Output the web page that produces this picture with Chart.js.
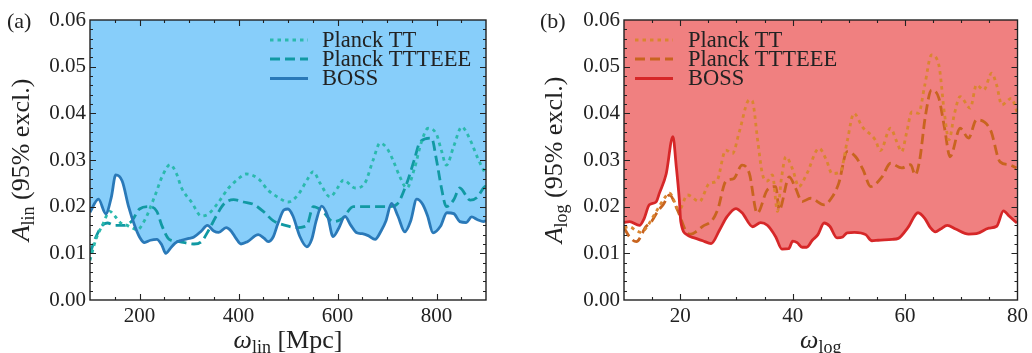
<!DOCTYPE html>
<html><head><meta charset="utf-8">
<script src="https://cdn.jsdelivr.net/npm/chart.js@4.4.1/dist/chart.umd.min.js"></script>
<style>
html,body{margin:0;padding:0;background:#fff;}
#wrap{position:relative;width:1032px;height:353px;overflow:hidden;}
canvas{position:absolute;top:0;}
</style>
</head><body>
<div id="wrap">
<canvas id="cA" width="516" height="353" style="left:0"></canvas>
<canvas id="cB" width="516" height="353" style="left:516px"></canvas>
</div>
<script>
// ---------- tick labels ----------
const yTicks = [0, 0.01, 0.02, 0.03, 0.04, 0.05, 0.06];
const linXTicks = [200, 400, 600, 800];
const logXTicks = [20, 40, 60, 80];
const legendLabels = ['Planck TT', 'Planck TTTEEE', 'BOSS'];

// ---------- panel (a): linear oscillations ----------
const linBossX = [100,117,132,143,152,165,178,190,200,210,222,235,245,253,262,272,285,300,310,325,337,350,360,375,385,395,405,418,440,452,460,470,480,492,500,510,524,538,548,557,568,580,591,603,615,627,639,650,662,676,688,698,709,722,736,748,760,772,782,793,808,821,835,847,860,871,883,895,900];
const linBossY = [.0188,.0216,.0185,.022,.0268,.0255,.020,.016,.0135,.0123,.0128,.013,.0118,.0100,.011,.0122,.0128,.0132,.0135,.0148,.016,.0148,.0145,.0155,.0148,.0132,.012,.0125,.014,.0132,.0125,.0135,.0165,.0193,.0195,.018,.0136,.0114,.013,.017,.0201,.018,.0136,.0155,.0179,.016,.0144,.0142,.0138,.013,.0148,.017,.0207,.018,.0146,.017,.0216,.0205,.018,.0144,.0158,.0187,.0185,.0168,.0166,.0178,.0172,.0168,.017];

const linTTX = [100,112,125,140,150,162,175,185,195,210,230,248,262,275,285,305,325,340,360,380,400,415,440,460,480,500,520,540,551,565,585,600,612,636,655,672,686,700,712,726,740,755,770,783,800,810,820,835,851,865,885,900];
const linTTY = [.0085,.013,.016,.019,.018,.0165,.016,.0155,.015,.017,.022,.027,.029,.027,.024,.021,.018,.0185,.021,.024,.026,.027,.026,.0235,.022,.021,.0225,.026,.0275,.025,.0221,.024,.0257,.024,.025,.030,.0336,.0325,.030,.0264,.024,.028,.034,.0368,.0355,.032,.0289,.033,.0371,.035,.030,.0268];

const linTEX = [100,112,125,135,150,170,185,200,220,235,245,260,280,310,325,340,355,370,390,410,430,450,470,495,515,538,551,570,591,610,632,660,690,706,720,740,755,767,790,800,810,820,835,847,868,882,895,900];
const linTEY = [.010,.0135,.016,.0165,.016,.016,.017,.0195,.020,.019,.016,.013,.0125,.012,.0125,.015,.018,.0205,.0215,.021,.0205,.019,.017,.016,.0155,.016,.020,.019,.0168,.0175,.020,.020,.020,.020,.0205,.025,.030,.0339,.0347,.030,.024,.020,.0215,.024,.0214,.022,.024,.0245];

// ---------- panel (b): log oscillations ----------
const logBossX = [10,11,12.75,13.6,14.5,15.7,16.3,17.5,18.7,19.3,19.85,20.1,21.3,22.5,24,25.5,27,28.3,29.9,31,32.9,34.3,35.5,37,38.1,39.3,40.0,40.8,41.7,42.5,43.5,44.5,45.6,46.6,47.9,48.9,49.7,51,53,54.1,55.2,57.7,58.8,60.5,62.3,63.5,64.5,65.4,66.3,67.5,69,71.3,72.7,74.9,76.3,77.5,78.5,79.9];
const logBossY = [.0166,.0168,.016,.0175,.0204,.021,.0229,.027,.035,.0286,.0214,.0168,.0139,.0133,.0127,.0121,.015,.0178,.0196,.0187,.0157,.0166,.016,.0135,.0109,.011,.0126,.0123,.0113,.0113,.0128,.014,.0165,.0158,.0133,.0135,.0144,.0145,.014,.0127,.0128,.013,.0132,.0155,.0187,.0175,.0155,.0146,.0152,.016,.0152,.0141,.0142,.0154,.0158,.0191,.018,.0165];

const logTTX = [10,11,12,13,14,15,16,17,18.1,19.8,21.3,23.4,25.2,26.5,28.1,29.3,30.5,32.3,32.8,33.8,34.6,35.5,36.4,37.3,38,38.8,40,41.1,42.5,44.7,46,47,48.5,49.7,50.9,52.4,54.7,55.6,57.4,58.5,59.4,60.3,61.2,62.4,63.5,64.7,66,67,67.8,68.8,69.8,71.6,72.7,74,75.4,76.3,77.2,78.9,80];
const logTTY = [.0155,.0157,.015,.0145,.0155,.0175,.0195,.0215,.0229,.0193,.0225,.0211,.025,.0255,.0321,.0314,.036,.0429,.0427,.034,.0271,.0255,.0268,.019,.026,.0307,.028,.0243,.027,.0325,.030,.0271,.0275,.034,.040,.0371,.0343,.032,.0368,.034,.0318,.036,.0403,.040,.046,.0525,.0504,.040,.0343,.040,.0436,.0411,.0461,.045,.0486,.046,.0418,.0432,.040];

const logTEX = [10,11,12.2,13.9,15,16,17,18.1,19.5,21.3,21.9,23,24,25.7,26.7,28.1,29.5,31,32.3,33.7,35.5,37,37.6,39.4,40.5,41.7,43.2,45.6,47,48.2,49.7,51.2,52.5,53.9,55.9,57.4,59.4,61,61.8,62.6,63.6,64.7,66,67,68,69.8,71.3,72.7,75.2,76.9,78.5,79.8];
const logTEY = [.0155,.0135,.0125,.0157,.017,.019,.0205,.0225,.0193,.0143,.0141,.0148,.0158,.0171,.0195,.0254,.026,.0289,.0271,.0186,.0236,.0243,.0193,.0264,.024,.0211,.0218,.0204,.022,.025,.0318,.0307,.028,.0243,.0264,.0293,.0283,.029,.0268,.030,.0393,.045,.0433,.037,.0307,.0368,.0347,.0386,.0364,.0296,.029,.0283];

// ---------- helpers ----------
const pts = (xs, ys) => xs.map((x, i) => ({x: x, y: ys[i]}));
const FONT = '"Liberation Serif", "Times New Roman", serif';
const INK = '#222';
const DOT = [3.5, 4];
const DASH = [10, 5];

function drawParts(ctx, parts, cx, by) {
  let w = 0;
  parts.forEach(p => { ctx.font = p.font; w += ctx.measureText(p.t).width; });
  let x = cx - w / 2;
  ctx.textBaseline = 'alphabetic';
  ctx.textAlign = 'left';
  parts.forEach(p => { ctx.font = p.font; ctx.fillText(p.t, x, by + (p.dy || 0)); x += ctx.measureText(p.t).width; });
}

function decoPlugin(cfg) {
  return {
    id: 'deco',
    afterDraw(chart) {
      const ctx = chart.ctx, a = chart.chartArea, xs = chart.scales.x, ys = chart.scales.y;
      ctx.save();
      ctx.strokeStyle = INK; ctx.fillStyle = INK;
      ctx.lineWidth = 1.1;
      ctx.beginPath();
      for (let v = cfg.xMin + cfg.xMinor; v < cfg.xMax - 1e-9; v += cfg.xMinor) {
        const px = Math.round(xs.getPixelForValue(v)) + 0.5;
        const len = cfg.xMajor.includes(Math.round(v)) ? 6 : 3;
        ctx.moveTo(px, a.bottom); ctx.lineTo(px, a.bottom - len);
        ctx.moveTo(px, a.top); ctx.lineTo(px, a.top + len);
      }
      for (let k = 1; k < 30; k++) {
        const py = Math.round(ys.getPixelForValue(k * 0.002)) + 0.5;
        const len = (k % 5 === 0) ? 6 : 3;
        ctx.moveTo(a.left, py); ctx.lineTo(a.left + len, py);
        ctx.moveTo(a.right, py); ctx.lineTo(a.right - len, py);
      }
      ctx.stroke();
      ctx.lineWidth = 1.4;
      ctx.strokeRect(a.left, a.top, a.right - a.left, a.bottom - a.top);
      cfg.legend.forEach((it, i) => {
        const yy = cfg.legY[i];
        ctx.save();
        ctx.strokeStyle = it.color; ctx.lineWidth = 2.8; ctx.setLineDash(it.dash);
        ctx.beginPath(); ctx.moveTo(cfg.legX0, yy); ctx.lineTo(cfg.legX1, yy); ctx.stroke();
        ctx.restore();
        ctx.font = '22.5px ' + FONT; ctx.textBaseline = 'middle'; ctx.textAlign = 'left';
        ctx.fillStyle = INK;
        ctx.fillText(it.label, cfg.legTX, yy + 1);
      });
      ctx.font = '22px ' + FONT; ctx.textBaseline = 'alphabetic'; ctx.textAlign = 'left';
      ctx.fillText(cfg.panel, cfg.panelX, 28);
      drawParts(ctx, [
        {t: 'ω', font: 'italic 26px ' + FONT},
        {t: cfg.sub, font: '18px ' + FONT, dy: 5},
        {t: cfg.xUnit, font: '26px ' + FONT}
      ], (a.left + a.right) / 2, 348);
      ctx.save();
      ctx.translate(cfg.yTitleX, (a.top + a.bottom) / 2);
      ctx.rotate(-Math.PI / 2);
      drawParts(ctx, [
        {t: 'A', font: 'italic 26px ' + FONT},
        {t: cfg.sub, font: '18px ' + FONT, dy: 5},
        {t: ' (95% excl.)', font: '26px ' + FONT}
      ], 0, 0);
      ctx.restore();
      ctx.restore();
    }
  };
}

function makeChart(id, c) {
  const ds = (label, data, color, dash, extra) => Object.assign({
    label: label, data: data, borderColor: color, borderWidth: 2.8, borderDash: dash,
    pointRadius: 0, fill: false, cubicInterpolationMode: 'monotone'
  }, extra || {});
  return new Chart(document.getElementById(id), {
    type: 'line',
    data: {
      datasets: [
        ds(legendLabels[0], c.tt, c.cTT, DOT),
        ds(legendLabels[1], c.te, c.cTE, DASH),
        ds(legendLabels[2], c.boss, c.cB, [], {fill: 'end', backgroundColor: c.fillColor, order: -1})
      ]
    },
    options: {
      responsive: false, animation: false, devicePixelRatio: 1,
      layout: {padding: {left: 0, right: c.padR, top: 20, bottom: 0}},
      plugins: {legend: {display: false}, tooltip: {enabled: false}, filler: {drawTime: 'beforeDatasetsDraw'}},
      scales: {
        x: {
          type: 'linear', min: c.xMin, max: c.xMax,
          grid: {display: false, drawTicks: false}, border: {display: false},
          afterBuildTicks: s => { s.ticks = c.xTicks.map(v => ({value: v})); },
          afterFit: s => { s.height = 53; },
          ticks: {font: {family: FONT, size: 21}, color: INK, padding: 4, maxRotation: 0, autoSkip: false,
                  callback: v => String(v)}
        },
        y: {
          type: 'linear', min: 0, max: 0.06,
          grid: {display: false, drawTicks: false}, border: {display: false},
          afterBuildTicks: s => { s.ticks = yTicks.map(v => ({value: v})); },
          afterFit: s => { s.width = c.yW; },
          ticks: {font: {family: FONT, size: 21}, color: INK, padding: 4, autoSkip: false,
                  callback: v => Number(v).toFixed(2)}
        }
      }
    },
    plugins: [decoPlugin(c.deco)]
  });
}

makeChart('cA', {
  tt: pts(linTTX, linTTY), te: pts(linTEX, linTEY), boss: pts(linBossX, linBossY),
  cTT: '#2bb9ad', cTE: '#1199a3', cB: '#2a79b8', fillColor: '#87cefa',
  xMin: 100, xMax: 900, xTicks: linXTicks, padR: 30, yW: 90,
  deco: {
    xMin: 100, xMax: 900, xMinor: 50, xMajor: linXTicks,
    legend: [
      {label: legendLabels[0], color: '#2bb9ad', dash: DOT},
      {label: legendLabels[1], color: '#1199a3', dash: DASH},
      {label: legendLabels[2], color: '#2a79b8', dash: []}
    ],
    legX0: 270, legX1: 308, legTX: 322, legY: [40, 59, 78.5],
    panel: '(a)', panelX: 7, sub: 'lin', xUnit: ' [Mpc]', yTitleX: 29
  }
});

makeChart('cB', {
  tt: pts(logTTX, logTTY), te: pts(logTEX, logTEY), boss: pts(logBossX, logBossY),
  cTT: '#da8530', cTE: '#c8641f', cB: '#d62728', fillColor: '#f08080',
  xMin: 10, xMax: 80, xTicks: logXTicks, padR: 14, yW: 108,
  deco: {
    xMin: 10, xMax: 80, xMinor: 5, xMajor: logXTicks,
    legend: [
      {label: legendLabels[0], color: '#da8530', dash: DOT},
      {label: legendLabels[1], color: '#c8641f', dash: DASH},
      {label: legendLabels[2], color: '#d62728', dash: []}
    ],
    legX0: 119, legX1: 157, legTX: 172, legY: [40, 59, 78.5],
    panel: '(b)', panelX: 24, sub: 'log', xUnit: '', yTitleX: 46
  }
});
</script>
</body></html>
